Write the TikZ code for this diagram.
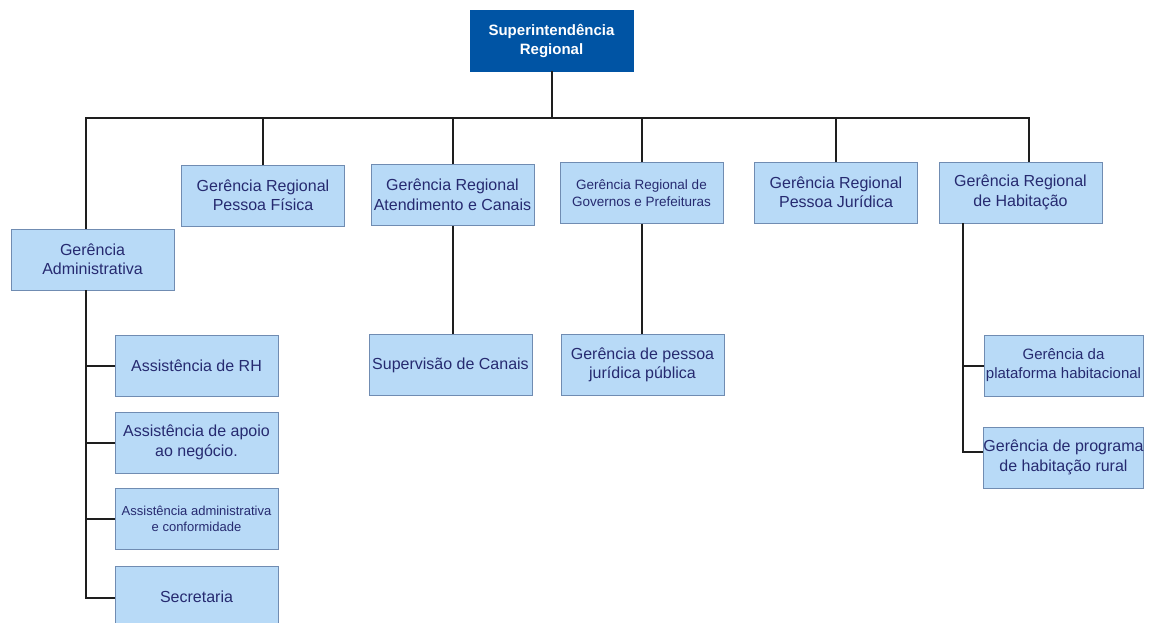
\documentclass[tikz,border=0pt]{standalone}
\usepackage{fontspec}
\setmainfont{Liberation Sans}
\definecolor{topfill}{RGB}{0,84,164}
\definecolor{boxfill}{RGB}{184,218,247}
\definecolor{boxedge}{RGB}{112,140,178}
\definecolor{boxtext}{RGB}{38,42,112}
\definecolor{wire}{RGB}{30,30,30}
\begin{document}
\begin{tikzpicture}[x=1pt,y=-1pt,
  unit/.style={draw=boxedge, fill=boxfill, line width=0.9pt, inner sep=0pt,
    minimum width=163pt, minimum height=61pt, align=center, text=boxtext,
    font=\fontsize{16}{19.5}\selectfont},
  small/.style={font=\fontsize{13.5}{17}\selectfont},
  tiny/.style={font=\fontsize{13}{16.5}\selectfont},
  narrow/.style={minimum width=159pt},
  head/.style={draw=topfill, fill=topfill, inner sep=0pt, minimum width=163pt,
    minimum height=61pt, align=center, text=white,
    font=\fontsize{15}{19}\selectfont\bfseries},
  link/.style={draw=wire, line width=2pt}]
\useasboundingbox (0,0) rectangle (1149,623);

% top of the hierarchy
\node[head] (sup) at (551.5,40.5) {Superintendência\\Regional};

% regional managements
\node[unit] (adm) at (92.5,259.5) {Gerência\\Administrativa};
\node[unit] (pf)  at (263,195.5)  {Gerência Regional\\Pessoa Física};
\node[unit] (ac)  at (452.5,195)  {Gerência Regional\\Atendimento e Canais};
\node[unit,small] (gov) at (641.5,193) {Gerência Regional de\\Governos e Prefeituras};
\node[unit] (pj)  at (836,192.5)  {Gerência Regional\\Pessoa Jurídica};
\node[unit] (hab) at (1020.5,192.5) {Gerência Regional\\de Habitação};

% administrative support units
\node[unit] (rh)    at (196.5,365.5) {Assistência de RH};
\node[unit] (apoio) at (196.5,442.5) {Assistência de apoio\\ao negócio.};
\node[unit,tiny] (conf) at (196.5,519) {Assistência administrativa\\e conformidade};
\node[unit] (sec)   at (196.5,596.5) {Secretaria};

% second-level units
\node[unit] (canais) at (450.5,365) {Supervisão de Canais};
\node[unit] (pjpub)  at (642.5,365) {Gerência de pessoa\\jurídica pública};
\node[unit,narrow,font=\fontsize{15}{19}\selectfont] (plat) at (1063.5,365.5) {Gerência da\\plataforma habitacional};
\node[unit,narrow] (rural) at (1063.5,457.5) {Gerência de programa\\de habitação rural};

% bus below the superintendence
\coordinate (busL) at (86,118);
\coordinate (busR) at (1029,118);
\coordinate (habL) at (963,0);

\draw[link] (sup.south) -- (sup.south |- busL);
\draw[link] (busL |- adm.north) -- (busL) -- (busR) -- (busR |- hab.north);
\draw[link] (pf.north) -- (pf.north |- busL);
\draw[link] (ac.north) -- (ac.north |- busL);
\draw[link] (gov.north) -- (gov.north |- busL);
\draw[link] (pj.north) -- (pj.north |- busL);

% administrative column
\draw[link] (busL |- adm.south) -- ([yshift=-1.5pt]busL |- sec.west) -- ([yshift=-1.5pt]sec.west);
\draw[link] (busL |- rh.west) -- (rh.west);
\draw[link] (busL |- apoio.west) -- (apoio.west);
\draw[link] (busL |- conf.west) -- (conf.west);

% single children
\draw[link] (ac.south) -- (ac.south |- canais.north);
\draw[link] (gov.south) -- (gov.south |- pjpub.north);

% housing column
\draw[link] (habL |- hab.south) -- ([yshift=5.5pt]habL |- rural.west) -- ([yshift=5.5pt]rural.west);
\draw[link] (habL |- plat.west) -- (plat.west);
\end{tikzpicture}
\end{document}
